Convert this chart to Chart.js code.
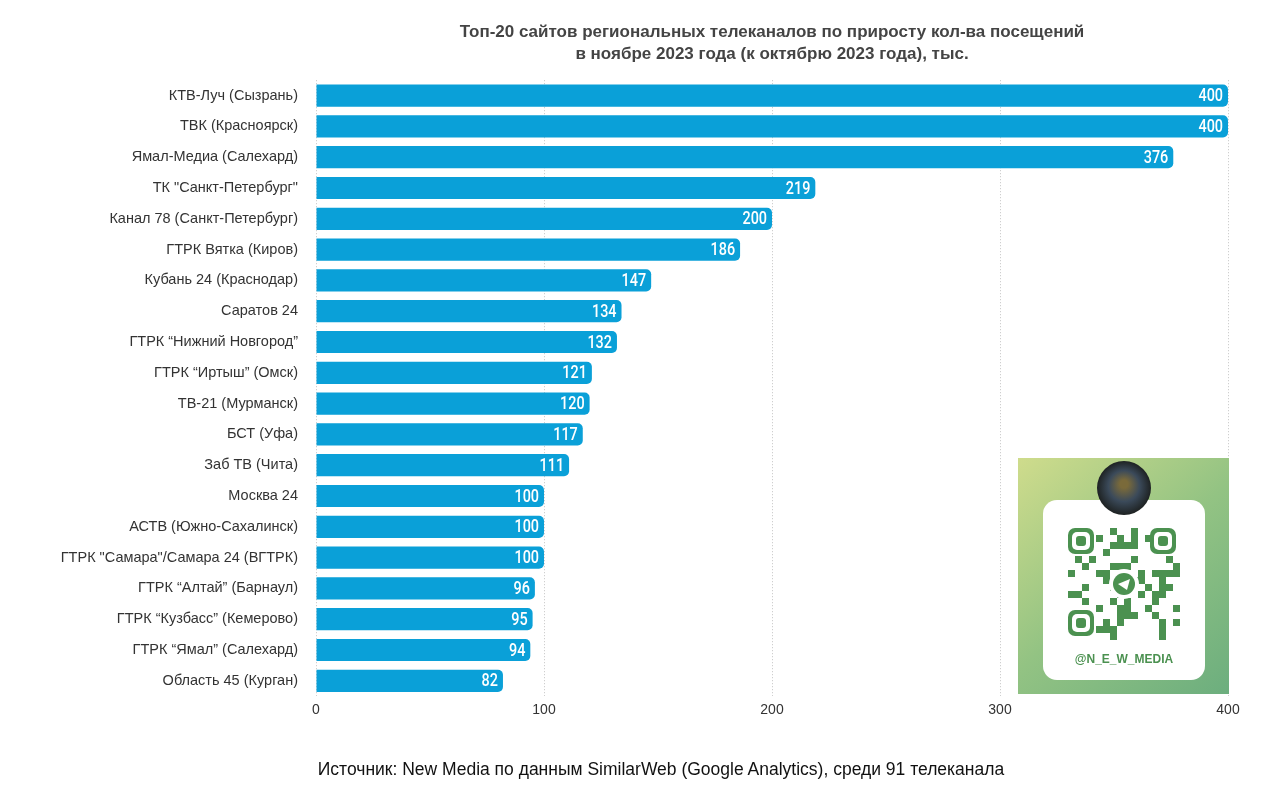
<!DOCTYPE html>
<html>
<head>
<meta charset="utf-8">
<script src="https://cdn.jsdelivr.net/npm/chart.js@4"></script>
<style>
  body { margin: 0; background: #fff; }
  #wrap { position: relative; width: 1280px; height: 810px; }
  #source {
    position: absolute; left: 0; width: 1322px; top: 759px;
    text-align: center; font: 17.5px "Liberation Sans", Arial, sans-serif; color: #111;
  }
  #qr { position: absolute; left: 1018px; top: 458px; }
</style>
</head>
<body>
<div id="wrap">
  <canvas id="chart" width="1280" height="810"></canvas>
  <canvas id="qr" width="211" height="236"></canvas>
  <div id="source">Источник: New Media по данным SimilarWeb (Google Analytics), среди 91 телеканала</div>
</div>
<script>
// data
const channels = [
    'КТВ-Луч (Сызрань)', 'ТВК (Красноярск)', 'Ямал-Медиа (Салехард)',
    'ТК "Санкт-Петербург"', 'Канал 78 (Санкт-Петербург)', 'ГТРК Вятка (Киров)',
    'Кубань 24 (Краснодар)', 'Саратов 24', 'ГТРК “Нижний Новгород”',
    'ГТРК “Иртыш” (Омск)', 'ТВ-21 (Мурманск)', 'БСТ (Уфа)',
    'Заб ТВ (Чита)', 'Москва 24', 'АСТВ (Южно-Сахалинск)',
    'ГТРК "Самара"/Самара 24 (ВГТРК)', 'ГТРК “Алтай” (Барнаул)',
    'ГТРК “Кузбасс” (Кемерово)', 'ГТРК “Ямал” (Салехард)', 'Область 45 (Курган)'];
const growth = [400, 400, 376, 219, 200, 186, 147, 134, 132, 121,
    120, 117, 111, 100, 100, 100, 96, 95, 94, 82];
const xTicks = [0, 100, 200, 300, 400];

const barColor = '#0aa0d8';
const labelFont = '"Liberation Sans", Arial, sans-serif';

// white value labels at the bar ends (condensed by squeezing the text)
const valueLabels = {
    id: 'valueLabels',
    afterDatasetsDraw(chart) {
        const ctx = chart.ctx;
        const meta = chart.getDatasetMeta(0);
        const squeeze = 0.8;
        ctx.save();
        ctx.fillStyle = '#fff';
        ctx.font = '500 18px Roboto, sans-serif';
        ctx.textAlign = 'right';
        ctx.textBaseline = 'middle';
        meta.data.forEach((bar, i) => {
            ctx.save();
            ctx.translate(bar.x - 5, bar.y + 1);
            ctx.scale(squeeze, 1);
            ctx.fillText(growth[i], 0, 0);
            ctx.restore();
        });
        ctx.restore();
    }
};

new Chart(document.getElementById('chart'), {
    type: 'bar',
    data: {
        labels: channels,
        datasets: [{
            data: growth,
            backgroundColor: barColor,
            borderRadius: 5,
            borderSkipped: 'start',
            barPercentage: 0.8,
            categoryPercentage: 0.9
        }]
    },
    options: {
        indexAxis: 'y',
        responsive: false,
        animation: false,
        layout: { padding: { top: 0, right: 52, bottom: 85, left: 0 } },
        plugins: {
            legend: { display: false },
            tooltip: { enabled: false },
            title: {
                display: true,
                fullSize: false,
                text: ['Топ-20 сайтов региональных телеканалов по приросту кол-ва посещений',
                       'в ноябре 2023 года (к октябрю 2023 года), тыс.'],
                color: '#444',
                font: { family: labelFont, size: 17, weight: 'bold', lineHeight: 1.3 },
                padding: { top: 21, bottom: 15 }
            }
        },
        scales: {
            x: {
                min: 0,
                max: 400,
                afterBuildTicks: axis => { axis.ticks = xTicks.map(v => ({ value: v })); },
                grid: { color: '#c4c4c4', drawTicks: false },
                border: { display: false, dash: [1, 2] },
                ticks: {
                    padding: 6,
                    color: '#333',
                    font: { family: labelFont, size: 14 }
                }
            },
            y: {
                afterFit: axis => { axis.width = 316; },
                grid: { display: false, drawTicks: false },
                border: { display: false },
                ticks: {
                    padding: 18,
                    color: '#333',
                    font: { family: labelFont, size: 14.5 }
                }
            }
        }
    },
    plugins: [valueLabels]
});

// QR card decoration
(function drawQr() {
    const c = document.getElementById('qr');
    const g = c.getContext('2d');
    const w = c.width, h = c.height;
    const grad = g.createLinearGradient(0, 0, w, h);
    grad.addColorStop(0, '#cfdc8c');
    grad.addColorStop(0.5, '#93c383');
    grad.addColorStop(1, '#6cae7e');
    g.fillStyle = grad;
    g.fillRect(0, 0, w, h);

    g.fillStyle = '#fff';
    g.beginPath();
    g.roundRect(25, 42, 162, 180, 14);
    g.fill();

    const green = '#4b9150';
    const ox = 50, oy = 70, cell = 7, n = 16;
    g.fillStyle = green;
    for (let i = 0; i < n; i++) {
        for (let j = 0; j < n; j++) {
            const corner = (i < 4 && j < 4) || (i > 11 && j < 4) || (i < 4 && j > 11);
            if (corner) continue;
            if (((i * 7 + j * 13) ^ (i * j)) % 3 === 0) {
                g.fillRect(ox + i * cell, oy + j * cell, cell, cell);
            }
        }
    }
    function finder(x, y) {
        g.fillStyle = green;
        g.beginPath(); g.roundRect(x, y, 26, 26, 7); g.fill();
        g.fillStyle = '#fff';
        g.beginPath(); g.roundRect(x + 4, y + 4, 18, 18, 5); g.fill();
        g.fillStyle = green;
        g.beginPath(); g.roundRect(x + 8, y + 8, 10, 10, 3); g.fill();
    }
    finder(ox, oy);
    finder(ox + 12 * cell - 2, oy);
    finder(ox, oy + 12 * cell - 2);
    // telegram circle
    g.fillStyle = '#fff';
    g.beginPath(); g.arc(ox + 8 * cell, oy + 8 * cell, 15, 0, Math.PI * 2); g.fill();
    g.fillStyle = green;
    g.beginPath(); g.arc(ox + 8 * cell, oy + 8 * cell, 11, 0, Math.PI * 2); g.fill();
    g.fillStyle = '#fff';
    g.beginPath();
    g.moveTo(ox + 8 * cell - 6, oy + 8 * cell);
    g.lineTo(ox + 8 * cell + 6, oy + 8 * cell - 5);
    g.lineTo(ox + 8 * cell + 3, oy + 8 * cell + 6);
    g.closePath(); g.fill();

    // avatar
    const av = g.createRadialGradient(106, 26, 4, 106, 30, 27);
    av.addColorStop(0, '#7a6a3a');
    av.addColorStop(0.5, '#3b4a5a');
    av.addColorStop(1, '#1e2222');
    g.fillStyle = av;
    g.beginPath(); g.arc(106, 30, 27, 0, Math.PI * 2); g.fill();

    g.fillStyle = green;
    g.font = 'bold 12px "Liberation Sans", Arial, sans-serif';
    g.textAlign = 'center';
    g.fillText('@N_E_W_MEDIA', 106, 205);
})();
</script>
</body>
</html>
